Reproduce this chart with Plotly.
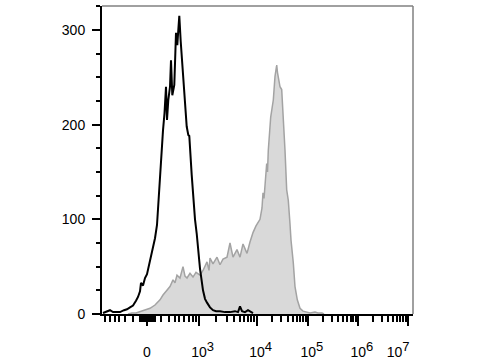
import numpy as np
import plotly.graph_objects as go

# ---- axis scale (biexponential-like display): intensity -> display channel ----
SCALE_VALUES = [0, 100, 200, 500, 1e3, 1e4, 1e5, 1e6, 1e7]
SCALE_CHANNELS = [0, 7.5, 14.3, 32, 52, 110, 161.3, 211.3, 260.8]


def to_channel(v):
    v = np.asarray(v, dtype=float)
    s = np.arcsinh(np.abs(v) / 100.0)
    ref = np.arcsinh(np.asarray(SCALE_VALUES) / 100.0)
    return np.sign(v) * np.interp(s, ref, SCALE_CHANNELS)


MAJOR_VALUES = [0, 1e3, 1e4, 1e5, 1e6, 1e7]
MAJOR_BASE = ["0", "10", "10", "10", "10", "10"]
MAJOR_EXP = ["", "3", "4", "5", "6", "7"]
MINOR_VALUES = ([-100 * k for k in range(1, 8)]
                + [s * k for k in (20, 40, 60, 80) for s in (-1, 1)]
                + [100 * k for k in range(1, 10)]
                + [m * 10 ** e for e in (3, 4, 5, 6) for m in range(2, 10)])

# ---- histogram data (display channel, count) ----
BLACK_CH = [-44, -41, -37, -34, -30, -27, -23, -20, -17, -14, -11, -9, -7, -6, -4, -2, 0,
            3, 6, 8, 10, 11, 12, 13, 14, 15, 16, 17.5, 19, 20, 21.3, 23, 24, 25.3, 27.3,
            29, 30.3, 31.3, 32.3, 33.7, 35.3, 37.3, 39.7, 41.3, 42.3, 44.7, 46.3, 48,
            49.7, 51.3, 53, 56, 58, 60, 63, 66, 69, 73, 78, 83, 88, 91, 93, 95, 98, 101,
            103, 106]
BLACK_COUNT = [1, 2, 4, 2, 2, 2, 4, 5, 7, 9, 14, 18, 24, 33, 30, 38, 42,
               57, 72, 80, 94, 112, 135, 146, 165, 184, 194, 212, 240, 205, 226, 240, 268,
               231, 242, 297, 284, 300, 315, 288, 263, 237, 198, 189, 188, 147, 121, 100,
               85, 68, 48, 25, 16, 12, 7, 4, 3, 3, 2, 2, 3, 2, 8, 3, 2, 4, 3, 1]

GRAY_CH = [-19, -15, -11, -7, -2, 3, 8, 13, 16, 20, 23, 26, 28, 30, 33, 36, 38, 40, 43,
           46, 49, 53, 56, 60, 62, 63, 66, 70, 73, 76, 80, 83, 86, 90, 93, 96, 100, 103,
           106, 109, 113, 115, 116, 117, 118, 119.7, 120.5, 121.3, 123.7, 125, 126.3,
           128, 129.7, 130.5, 131.3, 132, 133, 134.7, 136.3, 138, 139.7, 141.3, 143,
           144, 146.3, 148, 150.3, 153, 156, 159, 163, 168, 171, 175, 177]
GRAY_COUNT = [0, 1, 1, 2.5, 4, 6, 9.5, 15, 20, 25, 29, 36, 33, 41, 38, 50, 40, 38, 43,
              39, 44, 41, 46, 55, 46, 59, 53, 60, 52, 58, 60, 75, 60, 68, 60, 74, 64, 76,
              86, 93, 100, 112, 128, 122, 140, 159, 150, 173, 208, 215, 226,
              251, 263, 255, 251, 245, 240, 237, 208, 173, 131, 120, 95,
              78, 54, 29, 15, 6, 3, 2, 1, 2, 1, 1, 0]

FONT = "Liberation Sans, Arial, Helvetica, sans-serif"

fig = go.Figure()
fig.add_trace(go.Scatter(x=GRAY_CH, y=GRAY_COUNT, mode="lines", fill="tozeroy",
                         fillcolor="#d9d9d9", line=dict(color="#a3a3a3", width=1.5),
                         showlegend=False, hoverinfo="skip"))
fig.add_trace(go.Scatter(x=BLACK_CH, y=BLACK_COUNT, mode="lines",
                         line=dict(color="#000000", width=2),
                         showlegend=False, hoverinfo="skip"))

major_pos = to_channel(MAJOR_VALUES).tolist()
minor_pos = to_channel(MINOR_VALUES).tolist()


def label(base, exp, i, n):
    if not exp:
        return base
    sup = "<sup><span style='font-size:13px'>%s</span></sup>" % exp
    if i == n - 1:
        return base + sup + "\u00a0" * 5
    return "<sup><span style='font-size:13px'>\u00a0\u00a0</span></sup>" + base + sup


ticktext = [label(b, e, i, len(MAJOR_BASE)) for i, (b, e) in enumerate(zip(MAJOR_BASE, MAJOR_EXP))]

fig.update_xaxes(range=[-45, 266], showgrid=False, zeroline=False, automargin=False,
                 showline=True, linecolor="#000", linewidth=2,
                 ticks="outside", ticklen=10, tickwidth=2, tickcolor="#000",
                 tickmode="array", tickvals=major_pos, ticktext=ticktext,
                 ticklabelstandoff=14,
                 tickfont=dict(family=FONT, size=14, color="#000"),
                 minor=dict(tickmode="array", tickvals=minor_pos, ticks="outside",
                            ticklen=6, tickwidth=1.5, tickcolor="#000", showgrid=False))
fig.update_yaxes(range=[0, 325.3], showgrid=False, zeroline=False, automargin=False,
                 showline=True, linecolor="#000", linewidth=2,
                 ticks="outside", ticklen=8, tickwidth=2, tickcolor="#000",
                 tickmode="linear", tick0=0, dtick=100,
                 ticklabelstandoff=4,
                 tickfont=dict(family=FONT, size=14, color="#000"),
                 minor=dict(dtick=25, ticks="outside", ticklen=4, tickwidth=1.5,
                            tickcolor="#000", showgrid=False))

fig.add_shape(type="line", xref="paper", yref="paper", x0=0, x1=1, y0=1, y1=1,
              line=dict(color="#808080", width=1.5))
fig.add_shape(type="line", xref="paper", yref="paper", x0=1, x1=1, y0=0, y1=1,
              line=dict(color="#808080", width=1.5))

fig.update_layout(width=480, height=360, margin=dict(l=102, r=67, t=6, b=46),
                  paper_bgcolor="white", plot_bgcolor="white",
                  font=dict(family=FONT))
fig.write_html("out.html")
